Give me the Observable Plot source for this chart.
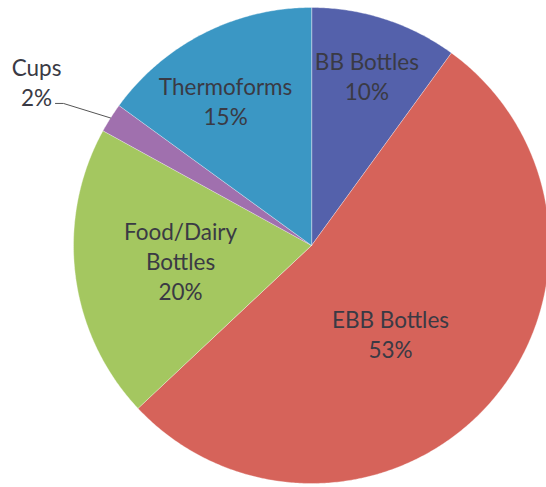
<!DOCTYPE html>
<html><head><meta charset="utf-8">
<script src="https://cdn.jsdelivr.net/npm/d3@7"></script>
<script src="https://cdn.jsdelivr.net/npm/@observablehq/plot@0.6"></script>
<style>html,body{margin:0;padding:0;background:#fff;}</style>
</head><body><div id="chart"></div>
<script>
// ---- data ----
const categories = ["BB Bottles", "EBB Bottles", "Food/Dairy Bottles", "Cups", "Thermoforms"];
const labelLines = ["BB Bottles", "EBB Bottles", "Food/Dairy\nBottles", "Cups", "Thermoforms"];
const shares = [10, 53, 20, 2, 15];
const colors = ["#5461ab", "#d6635a", "#a4c760", "#a070ae", "#3b97c4"];

// ---- layout (label placement: radial fraction of radius, angle offset in degrees) ----
const labelLayout = {
  "BB Bottles": {r: 0.753, da: 0},
  "EBB Bottles": {r: 0.498, da: 6.8},
  "Food/Dairy Bottles": {r: 0.554, da: 0.5},
  "Cups": {r: 1.345, da: -1.6},
  "Thermoforms": {r: 0.707, da: -3.7}
};
const W = 546, H = 487, R = 238, CX = 311, CY = 245;
const deg = Math.PI / 180;

const arcs = d3.pie().sort(null).value(d => d)(shares);

const polyRows = [];
arcs.forEach((a, i) => {
  const cat = categories[i];
  polyRows.push({cat, x: 0, y: 0});
  const n = Math.max(2, Math.ceil((a.endAngle - a.startAngle) / (0.5 * deg)));
  for (let k = 0; k <= n; k++) {
    const t = a.startAngle + (a.endAngle - a.startAngle) * k / n;
    polyRows.push({cat, x: Math.sin(t), y: Math.cos(t)});
  }
});

const labelRows = arcs.map((a, i) => {
  const cat = categories[i];
  const L = labelLayout[cat];
  const t = (a.startAngle + a.endAngle) / 2 + L.da * deg;
  return {cat, x: L.r * Math.sin(t), y: L.r * Math.cos(t), text: labelLines[i] + "\n" + shares[i] + "%"};
});

// leader line for the small "Cups" slice
const cupsArc = arcs[categories.indexOf("Cups")];
const cm = (cupsArc.startAngle + cupsArc.endAngle) / 2;
const elbow = {x: 1.201 * Math.sin(cm - 2.6 * deg), y: 1.201 * Math.cos(cm - 2.6 * deg)};
const leaderRows = [
  {x: elbow.x - 8 / R, y: elbow.y},
  elbow,
  {x: Math.sin(cm), y: Math.cos(cm)}
];

const chart = Plot.plot({
  width: W, height: H, margin: 0,
  x: {domain: [-CX / R, (W - CX) / R], axis: null},
  y: {domain: [(CY - H) / R, CY / R], axis: null},
  color: {domain: categories, range: colors},
  style: {fontFamily: "Lato", background: "white"},
  marks: [
    Plot.line(polyRows, {x: "x", y: "y", z: "cat", fill: "cat", stroke: "#ffffff", strokeOpacity: 0.35, strokeWidth: 1, curve: "linear-closed"}),
    Plot.line(leaderRows, {x: "x", y: "y", stroke: "#555", strokeWidth: 1}),
    Plot.text(labelRows, {x: "x", y: "y", text: "text", fill: "#3a3a44", fontSize: 22.5, lineHeight: 1.333})
  ]
});
document.getElementById("chart").appendChild(chart);
</script>
</body></html>
